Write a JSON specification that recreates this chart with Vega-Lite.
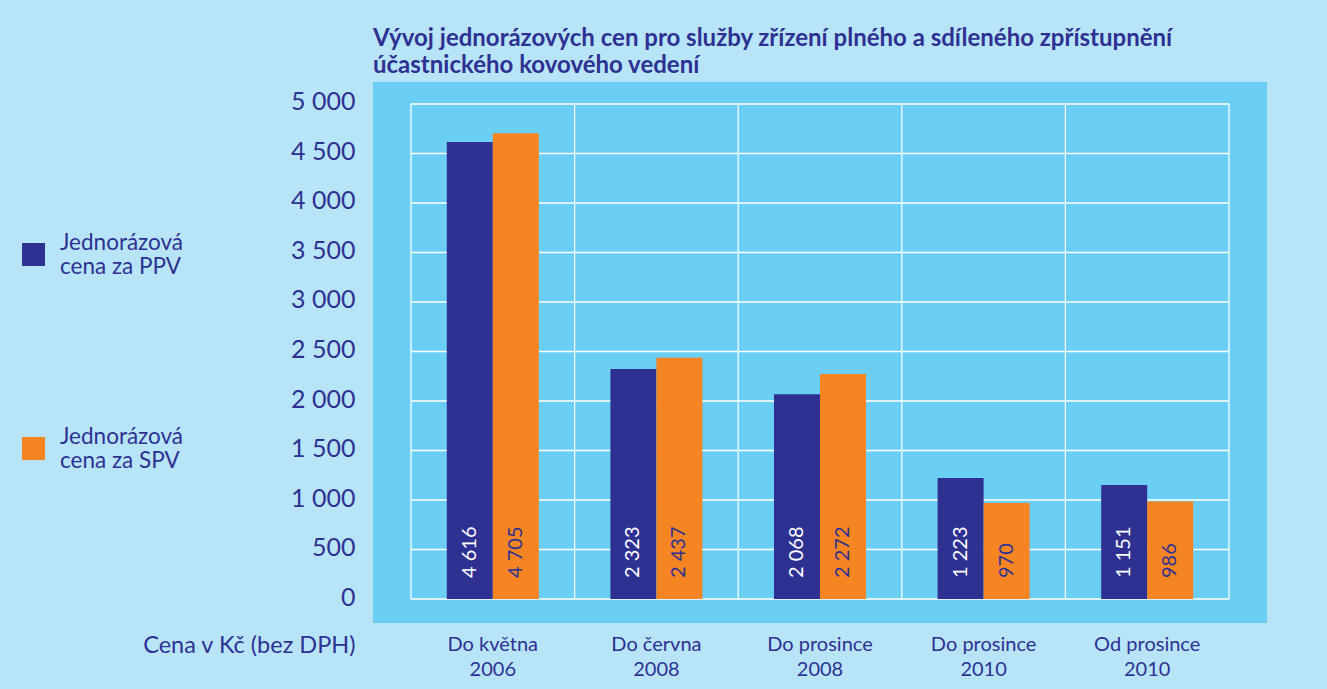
{
  "$schema": "https://vega.github.io/schema/vega-lite/v6.json",
  "width": 894,
  "height": 541,
  "autosize": {"type": "none"},
  "padding": {"left": 373, "top": 82, "right": 60, "bottom": 66},
  "background": "#b8e4f8",
  "config": {
    "locale": {"number": {"decimal": ",", "thousands": " ", "grouping": [3], "currency": ["", " Kč"]}},
    "font": "Lato",
    "view": {"fill": "#6bcff5", "stroke": null}
  },
  "title": {
    "text": ["Vývoj jednorázových cen pro služby zřízení plného a sdíleného zpřístupnění", "účastnického kovového vedení"],
    "anchor": "start",
    "frame": "group",
    "font": "Lato",
    "fontSize": 24,
    "fontWeight": "bold",
    "color": "#2e3192",
    "lineHeight": 27,
    "offset": 4
  },
  "datasets": {
    "bars": [
      {"obdobi": "Do května 2006", "serie": "Jednorázová cena za PPV", "cena": 4616},
      {"obdobi": "Do května 2006", "serie": "Jednorázová cena za SPV", "cena": 4705},
      {"obdobi": "Do června 2008", "serie": "Jednorázová cena za PPV", "cena": 2323},
      {"obdobi": "Do června 2008", "serie": "Jednorázová cena za SPV", "cena": 2437},
      {"obdobi": "Do prosince 2008", "serie": "Jednorázová cena za PPV", "cena": 2068},
      {"obdobi": "Do prosince 2008", "serie": "Jednorázová cena za SPV", "cena": 2272},
      {"obdobi": "Do prosince 2010", "serie": "Jednorázová cena za PPV", "cena": 1223},
      {"obdobi": "Do prosince 2010", "serie": "Jednorázová cena za SPV", "cena": 970},
      {"obdobi": "Od prosince 2010", "serie": "Jednorázová cena za PPV", "cena": 1151},
      {"obdobi": "Od prosince 2010", "serie": "Jednorázová cena za SPV", "cena": 986}
    ],
    "hgrid": [
      {"v": 0, "od": "Do května 2006", "do": "Od prosince 2010"},
      {"v": 500, "od": "Do května 2006", "do": "Od prosince 2010"},
      {"v": 1000, "od": "Do května 2006", "do": "Od prosince 2010"},
      {"v": 1500, "od": "Do května 2006", "do": "Od prosince 2010"},
      {"v": 2000, "od": "Do května 2006", "do": "Od prosince 2010"},
      {"v": 2500, "od": "Do května 2006", "do": "Od prosince 2010"},
      {"v": 3000, "od": "Do května 2006", "do": "Od prosince 2010"},
      {"v": 3500, "od": "Do května 2006", "do": "Od prosince 2010"},
      {"v": 4000, "od": "Do května 2006", "do": "Od prosince 2010"},
      {"v": 4500, "od": "Do května 2006", "do": "Od prosince 2010"},
      {"v": 5000, "od": "Do května 2006", "do": "Od prosince 2010"}
    ],
    "vgrid": [
      {"obdobi": "Do května 2006", "y0": 0, "y1": 5000},
      {"obdobi": "Do června 2008", "y0": 0, "y1": 5000},
      {"obdobi": "Do prosince 2008", "y0": 0, "y1": 5000},
      {"obdobi": "Do prosince 2010", "y0": 0, "y1": 5000},
      {"obdobi": "Od prosince 2010", "y0": 0, "y1": 5000}
    ],
    "vlast": [
      {"obdobi": "Od prosince 2010", "y0": 0, "y1": 5000}
    ]
  },
  "encoding": {
    "x": {
      "field": "obdobi",
      "type": "nominal",
      "sort": null,
      "scale": {"domain": ["Do května 2006", "Do června 2008", "Do prosince 2008", "Do prosince 2010", "Od prosince 2010"], "paddingInner": 0, "paddingOuter": 0.2323},
      "axis": {
        "title": "Cena v Kč (bez DPH)",
        "titleFont": "Lato",
        "titleFontSize": 23.5,
        "titleFontWeight": "normal",
        "titleColor": "#2e3192",
        "titleAnchor": "start",
        "titleAlign": "right",
        "titleBaseline": "middle",
        "titleX": -18,
        "titleY": 22,
        "labelAngle": 0,
        "labelFont": "Lato",
        "labelFontSize": 20,
        "labelColor": "#2e3192",
        "labelBaseline": "top",
        "labelLineHeight": 25,
        "labelPadding": 11,
        "labelExpr": "[slice(datum.label, 0, -5), slice(datum.label, -4)]",
        "ticks": false,
        "domain": false,
        "grid": false
      }
    }
  },
  "layer": [
    {
      "data": {"name": "hgrid"},
      "mark": {"type": "rule", "color": "white", "strokeWidth": 1.5},
      "encoding": {
        "x": {"field": "od", "type": "nominal", "bandPosition": 0},
        "x2": {"field": "do", "bandPosition": 1},
        "y": {"field": "v", "type": "quantitative"}
      }
    },
    {
      "data": {"name": "vgrid"},
      "mark": {"type": "rule", "color": "white", "strokeWidth": 1.2},
      "encoding": {
        "x": {"field": "obdobi", "type": "nominal", "bandPosition": 0},
        "y": {"field": "y0", "type": "quantitative"},
        "y2": {"field": "y1"}
      }
    },
    {
      "data": {"name": "vlast"},
      "mark": {"type": "rule", "color": "white", "strokeWidth": 1.2},
      "encoding": {
        "x": {"field": "obdobi", "type": "nominal", "bandPosition": 1},
        "y": {"field": "y0", "type": "quantitative"},
        "y2": {"field": "y1"}
      }
    },
    {
      "data": {"name": "bars"},
      "mark": {"type": "bar"},
      "encoding": {
        "xOffset": {"field": "serie", "type": "nominal", "scale": {"paddingInner": 0, "paddingOuter": 0.778}},
        "y": {
          "field": "cena",
          "type": "quantitative",
          "stack": null,
          "scale": {"domain": [-242.4, 5222.2], "nice": false, "zero": false},
          "axis": {
            "title": null,
            "values": [0, 500, 1000, 1500, 2000, 2500, 3000, 3500, 4000, 4500, 5000],
            "format": ",d",
            "labelFont": "Lato",
            "labelFontSize": 25,
            "labelColor": "#2e3192",
            "labelPadding": 18,
            "labelOffset": -2,
            "ticks": false,
            "domain": false,
            "grid": false
          }
        },
        "y2": {"datum": 0},
        "color": {
          "field": "serie",
          "type": "nominal",
          "scale": {"domain": ["Jednorázová cena za PPV", "Jednorázová cena za SPV"], "range": ["#2e3192", "#f58423"]},
          "legend": {
            "title": null,
            "orient": "none",
            "legendX": -351,
            "legendY": 161,
            "symbolType": "square",
            "symbolSize": 529,
            "symbolStrokeWidth": 0,
            "symbolOpacity": 1,
            "labelFont": "Lato",
            "labelFontSize": 22.5,
            "labelColor": "#2e3192",
            "labelLineHeight": 27,
            "labelOffset": 15,
            "labelBaseline": "bottom",
            "labelExpr": "[slice(datum.label, 0, 11), slice(datum.label, 12)]",
            "rowPadding": 146
          }
        }
      }
    },
    {
      "data": {"name": "bars"},
      "mark": {"type": "text", "angle": 270, "align": "left", "baseline": "middle", "dx": 21, "fontSize": 20, "font": "Lato"},
      "encoding": {
        "xOffset": {"field": "serie", "type": "nominal"},
        "y": {"datum": 0, "type": "quantitative"},
        "text": {"field": "cena", "type": "quantitative", "format": ",d"},
        "color": {
          "condition": {"test": "datum.serie === 'Jednorázová cena za PPV'", "value": "white"},
          "value": "#2e3192"
        }
      }
    }
  ]
}
